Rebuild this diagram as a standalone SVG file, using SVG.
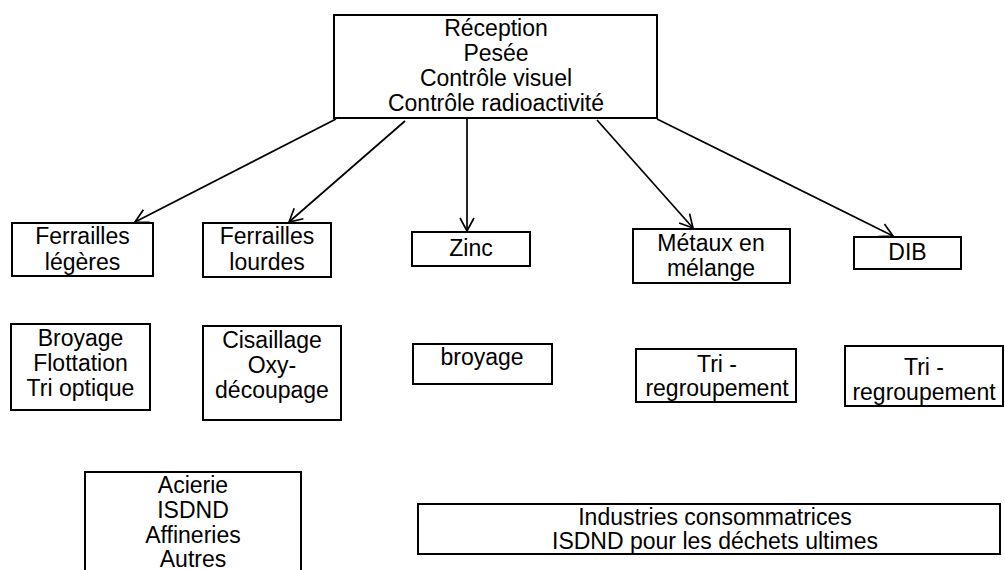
<svg xmlns="http://www.w3.org/2000/svg" width="1005" height="570" viewBox="0 0 1005 570">
<style>
.box{fill:#fff;stroke:#000;stroke-width:2}
.t{font-family:"Liberation Sans",Arial,sans-serif;font-size:23px;fill:#000;text-anchor:middle}
.c{stroke:#000;stroke-width:1.7;fill:none;marker-end:url(#ah)}
</style>
<defs>
<marker id="ah" markerUnits="userSpaceOnUse" markerWidth="18" markerHeight="18" refX="14" refY="8" orient="auto">
<path d="M1,1 L14,8 L1,15" fill="none" stroke="#000" stroke-width="1.7"/>
</marker>
</defs>
<rect width="1005" height="570" fill="#fff"/>
<g id="connectors">
<line class="c" x1="336" y1="119" x2="135" y2="222"/>
<line class="c" x1="405" y1="121" x2="289" y2="222"/>
<line class="c" x1="467" y1="119" x2="467" y2="231"/>
<line class="c" x1="597" y1="120" x2="693" y2="228"/>
<line class="c" x1="657" y1="119" x2="893" y2="236"/>
</g>
<g id="reception">
<rect class="box" x="334" y="15" width="323" height="103"/>
<text class="t" x="496" y="36">Réception</text>
<text class="t" x="496" y="61">Pesée</text>
<text class="t" x="496" y="86">Contrôle visuel</text>
<text class="t" x="496" y="111">Contrôle radioactivité</text>
</g>
<g id="ferrailles-legeres">
<rect class="box" x="12" y="223" width="141" height="53"/>
<text class="t" x="82.5" y="244">Ferrailles</text>
<text class="t" x="82.5" y="270">légères</text>
</g>
<g id="ferrailles-lourdes">
<rect class="box" x="203" y="223" width="128" height="54"/>
<text class="t" x="267" y="244">Ferrailles</text>
<text class="t" x="267" y="270">lourdes</text>
</g>
<g id="zinc">
<rect class="box" x="412" y="232" width="118" height="34"/>
<text class="t" x="471" y="256">Zinc</text>
</g>
<g id="metaux">
<rect class="box" x="633" y="229" width="157" height="54"/>
<text class="t" x="711" y="251">Métaux en</text>
<text class="t" x="711" y="276">mélange</text>
</g>
<g id="dib">
<rect class="box" x="854" y="237" width="107" height="32"/>
<text class="t" x="907.5" y="260">DIB</text>
</g>
<g id="broyage-flottation">
<rect class="box" x="11" y="324" width="139" height="86"/>
<text class="t" x="80.5" y="346">Broyage</text>
<text class="t" x="80.5" y="371">Flottation</text>
<text class="t" x="80.5" y="396">Tri optique</text>
</g>
<g id="cisaillage">
<rect class="box" x="203" y="326" width="138" height="94"/>
<text class="t" x="272" y="348">Cisaillage</text>
<text class="t" x="272" y="373">Oxy-</text>
<text class="t" x="272" y="398">découpage</text>
</g>
<g id="broyage">
<rect class="box" x="413" y="344" width="139" height="40"/>
<text class="t" x="482" y="365">broyage</text>
</g>
<g id="tri-1">
<rect class="box" x="636" y="349" width="160" height="53"/>
<text class="t" x="717" y="372">Tri -</text>
<text class="t" x="717" y="396">regroupement</text>
</g>
<g id="tri-2">
<rect class="box" x="845" y="346" width="158" height="60"/>
<text class="t" x="924" y="375">Tri -</text>
<text class="t" x="924" y="400">regroupement</text>
</g>
<g id="acierie">
<rect class="box" x="85" y="472" width="216" height="110"/>
<text class="t" x="193" y="493">Acierie</text>
<text class="t" x="193" y="518">ISDND</text>
<text class="t" x="193" y="543">Affineries</text>
<text class="t" x="193" y="567">Autres</text>
</g>
<g id="industries">
<rect class="box" x="418" y="504" width="582" height="50"/>
<text class="t" x="715" y="525">Industries consommatrices</text>
<text class="t" x="715" y="549">ISDND pour les déchets ultimes</text>
</g>
</svg>
